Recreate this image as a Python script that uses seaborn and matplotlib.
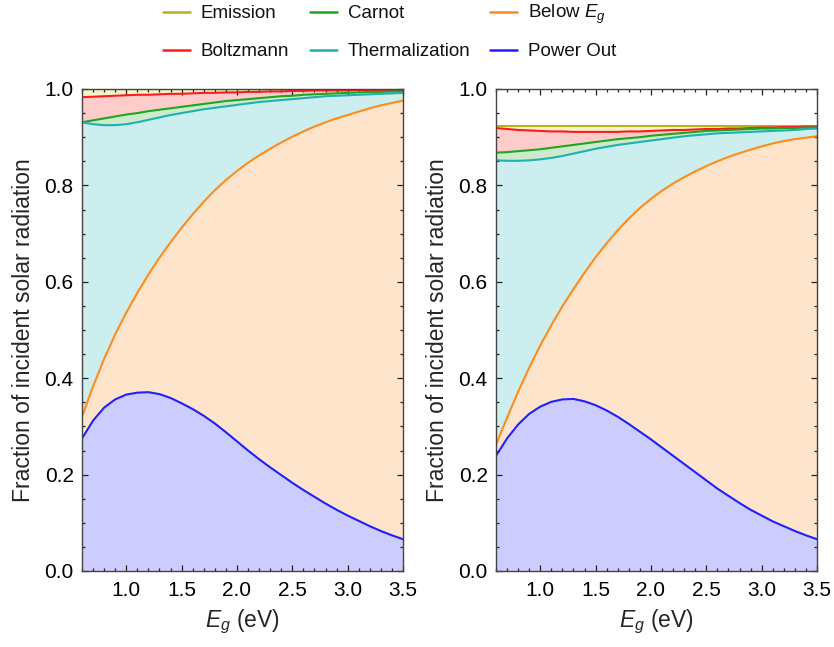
import matplotlib
matplotlib.use('Agg')
import matplotlib.pyplot as plt
import seaborn as sns
from matplotlib.lines import Line2D
from matplotlib.ticker import MultipleLocator, FormatStrFormatter

# Band-gap grid (eV)
E = [0.6, 0.7, 0.8, 0.9, 1.0, 1.1, 1.2, 1.3, 1.4, 1.5, 1.6, 1.7, 1.8, 1.9, 2.0,
     2.1, 2.2, 2.3, 2.4, 2.5, 2.6, 2.7, 2.8, 2.9, 3.0, 3.1, 3.2, 3.3, 3.4, 3.5]

# Left panel (cumulative fractions)
L_power = [0.275, 0.312, 0.339, 0.356, 0.366, 0.370, 0.371, 0.367, 0.359, 0.348,
           0.336, 0.322, 0.306, 0.288, 0.269, 0.250, 0.232, 0.215, 0.199, 0.183,
           0.168, 0.154, 0.140, 0.127, 0.115, 0.104, 0.093, 0.083, 0.074, 0.066]
L_below = [0.320, 0.383, 0.440, 0.491, 0.536, 0.577, 0.615, 0.650, 0.682, 0.712,
           0.740, 0.766, 0.790, 0.811, 0.830, 0.847, 0.862, 0.876, 0.889, 0.901,
           0.912, 0.922, 0.931, 0.939, 0.946, 0.953, 0.960, 0.966, 0.971, 0.976]
L_therm = [0.931, 0.927, 0.925, 0.925, 0.927, 0.931, 0.936, 0.941, 0.946, 0.950,
           0.954, 0.958, 0.961, 0.964, 0.967, 0.970, 0.973, 0.975, 0.977, 0.979,
           0.981, 0.983, 0.985, 0.986, 0.987, 0.988, 0.989, 0.990, 0.991, 0.992]
L_carnot = [0.931, 0.935, 0.939, 0.943, 0.947, 0.950, 0.954, 0.957, 0.960, 0.963,
            0.966, 0.969, 0.972, 0.975, 0.977, 0.979, 0.981, 0.983, 0.985, 0.986,
            0.988, 0.989, 0.990, 0.991, 0.992, 0.993, 0.994, 0.994, 0.995, 0.995]
L_boltz = [0.983, 0.984, 0.985, 0.986, 0.987, 0.988, 0.988, 0.989, 0.990, 0.990,
           0.991, 0.992, 0.992, 0.993, 0.993, 0.994, 0.994, 0.995, 0.995, 0.996,
           0.996, 0.997, 0.997, 0.997, 0.997, 0.998, 0.998, 0.998, 0.998, 0.998]
L_emis = [1.0] * 30

# Right panel
R_power = [0.239, 0.275, 0.304, 0.326, 0.341, 0.351, 0.356, 0.357, 0.352, 0.344,
           0.333, 0.320, 0.305, 0.289, 0.273, 0.256, 0.239, 0.222, 0.205, 0.188,
           0.171, 0.156, 0.141, 0.127, 0.115, 0.103, 0.093, 0.083, 0.074, 0.066]
R_below = [0.262, 0.318, 0.372, 0.422, 0.468, 0.510, 0.549, 0.585, 0.619, 0.651,
           0.680, 0.707, 0.731, 0.753, 0.772, 0.789, 0.804, 0.817, 0.829, 0.840,
           0.850, 0.859, 0.867, 0.874, 0.881, 0.887, 0.892, 0.896, 0.899, 0.902]
R_therm = [0.852, 0.851, 0.851, 0.852, 0.854, 0.857, 0.861, 0.866, 0.871, 0.876,
           0.880, 0.884, 0.887, 0.890, 0.893, 0.896, 0.899, 0.902, 0.904, 0.906,
           0.908, 0.909, 0.910, 0.911, 0.912, 0.913, 0.914, 0.915, 0.917, 0.918]
R_carnot = [0.868, 0.869, 0.871, 0.873, 0.875, 0.878, 0.881, 0.884, 0.887, 0.890,
            0.893, 0.896, 0.898, 0.900, 0.903, 0.905, 0.907, 0.909, 0.911, 0.913,
            0.914, 0.915, 0.916, 0.917, 0.918, 0.918, 0.919, 0.919, 0.920, 0.920]
R_boltz = [0.919, 0.917, 0.915, 0.914, 0.913, 0.912, 0.912, 0.911, 0.911, 0.911,
           0.911, 0.911, 0.912, 0.912, 0.913, 0.914, 0.915, 0.915, 0.916, 0.917,
           0.917, 0.918, 0.918, 0.919, 0.920, 0.920, 0.921, 0.921, 0.922, 0.922]
R_emis = [0.923] * 30

labels = ['Emission', 'Boltzmann', 'Carnot', 'Thermalization', r'Below $E_g$', 'Power Out']
line_colors = ['#b4b41e', '#ff1a1a', '#1fa51f', '#1fb0b0', '#ff8c1a', '#2020ff']
fill_colors = ['#f4f4cc', '#ffcccc', '#cceacc', '#cceeee', '#ffe4cc', '#ccccff']

sns.set_theme(style='ticks')
plt.rcParams['font.family'] = ['Liberation Sans', 'DejaVu Sans']
plt.rcParams['mathtext.fontset'] = 'custom'
plt.rcParams['mathtext.it'] = 'Liberation Sans:italic'
plt.rcParams['mathtext.rm'] = 'Liberation Sans'

W, H = 834, 647
fig = plt.figure(figsize=(W / 100, H / 100), dpi=100)
axL = fig.add_axes([82 / W, 1 - 571 / H, 321 / W, 482 / H])
axR = fig.add_axes([496 / W, 1 - 571 / H, 321 / W, 482 / H])


def draw(ax, series):
    # series: emission, boltz, carnot, therm, below, power (top to bottom)
    lowers = series[1:] + [[0.0] * len(E)]
    for upper, lower, fc in zip(series, lowers, fill_colors):
        ax.fill_between(E, lower, upper, color=fc, linewidth=0, zorder=1)
    for s, lc in zip(series, line_colors):
        sns.lineplot(x=E, y=s, ax=ax, color=lc, linewidth=1.5, sort=False,
                     estimator=None, zorder=3)
    ax.set_axisbelow(False)
    ax.set_xlim(0.6, 3.5)
    ax.set_ylim(0, 1)
    ax.xaxis.set_major_locator(MultipleLocator(0.5))
    ax.xaxis.set_minor_locator(MultipleLocator(0.1))
    ax.yaxis.set_major_locator(MultipleLocator(0.2))
    ax.yaxis.set_minor_locator(MultipleLocator(0.05))
    ax.xaxis.set_major_formatter(FormatStrFormatter('%.1f'))
    ax.yaxis.set_major_formatter(FormatStrFormatter('%.1f'))
    ax.tick_params(which='both', direction='in', top=True, right=True,
                   colors='#222222', labelcolor='black', labelsize=15, width=0.9)
    ax.tick_params(which='major', length=4.5)
    ax.tick_params(which='minor', length=2.3)
    ax.tick_params(axis='x', which='major', pad=7)
    ax.tick_params(axis='y', which='major', pad=6)
    for sp in ax.spines.values():
        sp.set_color('#444444')
        sp.set_linewidth(1.0)
        sp.set_zorder(5)
    ax.set_xlabel(r'$E_g$ (eV)', fontsize=16.5, labelpad=6)
    ax.set_ylabel('Fraction of incident solar radiation', fontsize=16.5, labelpad=7)
    ax.set_facecolor('white')


draw(axL, [L_emis, L_boltz, L_carnot, L_therm, L_below, L_power])
draw(axR, [R_emis, R_boltz, R_carnot, R_therm, R_below, R_power])

# Legend: 3 columns x 2 rows at the top of the figure
col_x = [163, 310, 490]
row_y = [12, 50]
row_base = [18.5, 56]
for i, (lab, lc) in enumerate(zip(labels, line_colors)):
    c, r = divmod(i, 2)
    x0 = col_x[c]
    fig.add_artist(Line2D([x0 / W, (x0 + 27) / W], [1 - row_y[r] / H] * 2,
                          transform=fig.transFigure, color=lc, linewidth=1.8))
    fig.text((x0 + 38) / W, 1 - row_base[r] / H, lab, fontsize=13.5,
             ha='left', va='baseline', color='#111111')

fig.savefig('out.png', dpi=100, facecolor='white')
